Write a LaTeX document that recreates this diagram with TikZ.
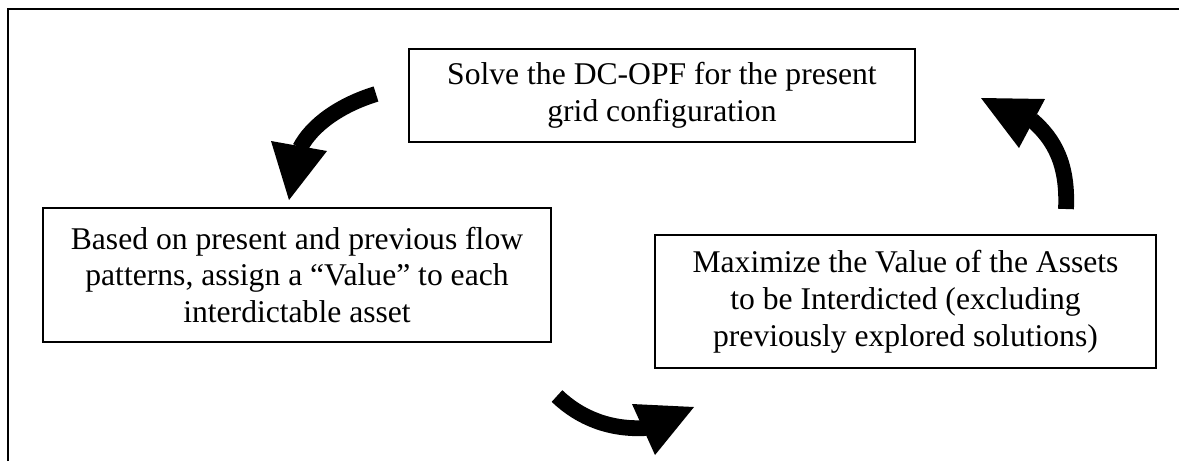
\documentclass[tikz,border=0pt]{standalone}
\usepackage{fontspec}
\setmainfont{Liberation Serif}
\tikzset{
  basenode/.style = {align=center, inner sep=4pt, text centered, font=\fontsize{18}{21}\selectfont},
  step_node/.style = {basenode, rectangle, draw=black, line width=1.1pt},
  shaft_line/.style = {line width=9pt},
  head_tip/.style = {fill=black},
}

\begin{document}
\begin{tikzpicture}[x=0.02cm, y=-0.02cm]
    \useasboundingbox (0,0) rectangle (1179,461);
    \draw [line width=1.2pt] (8,461) -- (8,9) -- (1179,9);

    \node [step_node, minimum width=10.12cm, minimum height=1.86cm] (solve) at (662,95.5)
        {Solve the DC-OPF for the present\\grid configuration};
    \node [step_node, minimum width=10.16cm, minimum height=2.68cm] (assign) at (297,275)
        {Based on present and previous flow\\patterns, assign a ``Value'' to each\\interdictable asset};
    \node [step_node, minimum width=10.02cm, minimum height=2.66cm] (maximize) at (905.5,301.5)
        {Maximize the Value of the Assets\\to be Interdicted (excluding\\previously explored solutions)};

    \coordinate (left_start) at (376,94);
    \coordinate (left_end) at (300,148);
    \coordinate (bottom_start) at (557,396);
    \coordinate (bottom_end) at (646,428);
    \coordinate (right_start) at (1066,209);
    \coordinate (right_end) at (1032,120);

    \draw [shaft_line] (left_start) .. controls (340,105) and (312,125) .. (left_end);
    \fill [head_tip] (271,141) -- (327,151) -- (289,200) -- cycle;

    \draw [shaft_line] (bottom_start) .. controls (580,418) and (610,430) .. (bottom_end);
    \fill [head_tip] (632,404) -- (694,407) -- (655,455) -- cycle;

    \draw [shaft_line] (right_start) .. controls (1068,165) and (1055,140) .. (right_end);
    \fill [head_tip] (981,98) -- (1045,99) -- (1019,148) -- cycle;
\end{tikzpicture}
\end{document}
